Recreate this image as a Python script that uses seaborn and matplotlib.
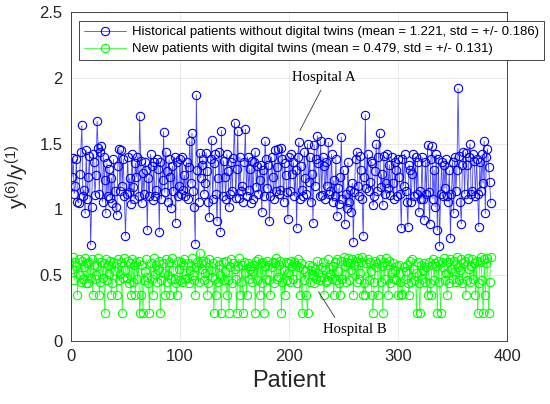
import numpy as np
import pandas as pd
import matplotlib
matplotlib.use("Agg")
import matplotlib.pyplot as plt
import seaborn as sns
from matplotlib.ticker import FuncFormatter

# ---------------- data ----------------
blue_ratio = [
    1.25, 1.39, 1.12, 1.18, 1.38, 1.06, 1.05, 1.27, 1.44, 1.64, 1.10, 1.15, 0.97, 1.45, 1.08, 1.25, 1.41, 0.73, 1.02, 1.42,
    1.36, 1.11, 1.26, 1.67, 1.47, 1.12, 1.44, 1.48, 1.06, 1.40, 1.22, 0.97, 1.35, 1.10, 1.31, 1.09, 1.24, 1.05, 1.38, 1.14,
    1.02, 0.96, 1.33, 1.46, 1.14, 1.45, 1.18, 1.38, 1.10, 0.80, 1.12, 1.40, 1.13, 1.24, 1.04, 1.42, 1.17, 1.08, 1.35, 1.25,
    1.40, 1.10, 1.71, 1.37, 1.05, 1.28, 1.12, 1.36, 1.30, 0.84, 1.24, 1.10, 1.42, 1.33, 1.07, 1.36, 1.10, 1.15, 1.38, 1.31,
    0.83, 1.36, 1.08, 1.22, 1.59, 1.13, 1.44, 1.29, 1.06, 1.38, 1.25, 1.01, 1.33, 1.14, 1.40, 0.90, 1.36, 1.10, 1.18, 1.38,
    1.12, 1.40, 1.15, 1.26, 1.10, 1.36, 1.08, 1.32, 1.52, 1.20, 1.58, 1.14, 1.02, 0.74, 1.87, 1.30, 1.06, 1.43, 1.24, 1.34,
    1.38, 1.12, 1.20, 1.43, 1.29, 1.06, 0.94, 1.38, 1.53, 1.08, 1.35, 1.42, 1.12, 0.91, 1.24, 1.44, 0.83, 1.60, 1.10, 1.37,
    1.25, 1.08, 1.42, 1.29, 1.02, 1.12, 1.36, 1.14, 1.39, 1.66, 1.09, 1.31, 1.60, 1.09, 1.40, 1.14, 1.18, 1.06, 1.36, 1.61,
    1.10, 1.40, 1.15, 1.31, 1.05, 1.37, 1.08, 1.36, 1.44, 1.17, 1.33, 1.12, 1.22, 1.34, 0.98, 1.30, 1.10, 1.52, 1.38, 1.16,
    1.34, 0.91, 1.10, 1.40, 1.25, 1.08, 1.45, 1.14, 1.32, 1.46, 1.12, 1.15, 1.47, 1.38, 1.06, 1.35, 1.26, 1.13, 0.93, 1.40,
    1.14, 1.42, 1.27, 1.36, 1.10, 1.30, 0.86, 1.40, 1.51, 1.08, 1.33, 1.15, 1.10, 1.44, 1.24, 1.12, 1.50, 1.21, 1.40, 1.06,
    1.27, 0.90, 1.49, 1.18, 1.38, 1.56, 1.35, 1.10, 1.52, 1.11, 1.40, 1.33, 1.08, 1.36, 1.18, 1.51, 1.12, 1.14, 1.42, 1.06,
    1.22, 1.10, 1.38, 0.95, 1.16, 1.04, 1.25, 1.55, 1.08, 1.30, 0.89, 1.12, 1.01, 1.36, 1.06, 1.15, 0.98, 1.20, 0.75, 1.13,
    1.38, 1.44, 1.18, 1.10, 1.41, 1.30, 1.08, 0.80, 1.25, 1.72, 1.16, 1.42, 1.14, 1.21, 1.37, 1.35, 1.03, 1.10, 1.29, 1.50,
    1.14, 1.40, 1.58, 1.17, 1.27, 1.03, 1.41, 1.12, 1.20, 1.42, 1.16, 1.34, 1.11, 1.40, 1.20, 1.08, 1.36, 1.30, 1.10, 1.38,
    1.25, 1.12, 0.86, 1.38, 1.18, 1.42, 1.14, 1.06, 0.87, 1.34, 1.30, 1.06, 1.27, 1.42, 1.10, 1.40, 1.12, 1.36, 0.98, 1.14,
    1.08, 1.40, 1.08, 0.92, 1.36, 1.12, 1.49, 1.13, 0.89, 1.38, 1.48, 1.08, 1.30, 1.02, 1.42, 0.84, 1.38, 0.72, 1.12, 1.36,
    1.10, 1.34, 1.16, 1.38, 1.10, 1.06, 1.30, 0.78, 1.12, 1.36, 0.97, 1.40, 1.14, 1.30, 1.92, 1.41, 1.06, 0.89, 1.34, 1.44,
    1.12, 1.43, 1.34, 1.08, 1.40, 1.50, 1.12, 1.14, 1.42, 1.37, 1.10, 1.38, 1.12, 0.87, 1.36, 1.14, 1.42, 1.20, 1.52, 0.97,
    1.40, 1.46, 1.32, 1.21, 1.05,
]

green_ratio = [
    0.55, 0.64, 0.46, 0.60, 0.57, 0.35, 0.62, 0.50, 0.45, 0.61, 0.47, 0.56, 0.63, 0.44, 0.59, 0.44, 0.60, 0.48, 0.62, 0.35,
    0.58, 0.47, 0.50, 0.57, 0.63, 0.35, 0.45, 0.60, 0.48, 0.59, 0.21, 0.62, 0.46, 0.58, 0.51, 0.61, 0.35, 0.44, 0.60, 0.53,
    0.59, 0.35, 0.62, 0.46, 0.51, 0.60, 0.21, 0.48, 0.63, 0.54, 0.48, 0.61, 0.44, 0.59, 0.35, 0.62, 0.45, 0.58, 0.35, 0.60,
    0.47, 0.61, 0.21, 0.35, 0.58, 0.21, 0.46, 0.53, 0.62, 0.49, 0.44, 0.21, 0.59, 0.47, 0.35, 0.63, 0.51, 0.58, 0.45, 0.54,
    0.61, 0.21, 0.46, 0.59, 0.52, 0.35, 0.62, 0.45, 0.50, 0.60, 0.35, 0.47, 0.63, 0.54, 0.47, 0.44, 0.35, 0.61, 0.55, 0.46,
    0.60, 0.45, 0.58, 0.62, 0.47, 0.48, 0.59, 0.44, 0.54, 0.57, 0.63, 0.50, 0.46, 0.35, 0.56, 0.60, 0.45, 0.67, 0.59, 0.55,
    0.61, 0.46, 0.52, 0.60, 0.35, 0.44, 0.62, 0.54, 0.49, 0.59, 0.21, 0.47, 0.35, 0.61, 0.45, 0.58, 0.50, 0.21, 0.60, 0.46,
    0.53, 0.61, 0.35, 0.46, 0.21, 0.56, 0.62, 0.44, 0.59, 0.55, 0.47, 0.21, 0.57, 0.63, 0.35, 0.45, 0.58, 0.21, 0.60, 0.52,
    0.35, 0.59, 0.47, 0.55, 0.57, 0.45, 0.53, 0.58, 0.21, 0.61, 0.46, 0.62, 0.35, 0.59, 0.44, 0.60, 0.21, 0.57, 0.47, 0.61,
    0.58, 0.46, 0.35, 0.56, 0.60, 0.44, 0.59, 0.63, 0.47, 0.49, 0.58, 0.61, 0.21, 0.45, 0.54, 0.35, 0.60, 0.46, 0.52, 0.59,
    0.45, 0.61, 0.57, 0.47, 0.60, 0.58, 0.44, 0.62, 0.56, 0.35, 0.59, 0.21, 0.55, 0.46, 0.53, 0.35, 0.21, 0.58, 0.45, 0.54,
    0.57, 0.50, 0.44, 0.55, 0.47, 0.61, 0.52, 0.46, 0.49, 0.56, 0.60, 0.35, 0.54, 0.45, 0.46, 0.62, 0.55, 0.51, 0.47, 0.57,
    0.35, 0.60, 0.46, 0.62, 0.53, 0.44, 0.35, 0.61, 0.47, 0.64, 0.57, 0.45, 0.60, 0.63, 0.46, 0.59, 0.54, 0.62, 0.35, 0.58,
    0.61, 0.45, 0.63, 0.47, 0.52, 0.60, 0.64, 0.35, 0.44, 0.35, 0.59, 0.62, 0.46, 0.60, 0.53, 0.35, 0.21, 0.45, 0.61, 0.56,
    0.59, 0.35, 0.62, 0.45, 0.57, 0.21, 0.60, 0.47, 0.63, 0.58, 0.35, 0.61, 0.44, 0.52, 0.59, 0.47, 0.54, 0.46, 0.57, 0.35,
    0.58, 0.45, 0.35, 0.36, 0.56, 0.47, 0.53, 0.58, 0.44, 0.35, 0.61, 0.45, 0.62, 0.55, 0.46, 0.52, 0.21, 0.60, 0.44, 0.21,
    0.58, 0.47, 0.54, 0.59, 0.45, 0.56, 0.35, 0.60, 0.44, 0.35, 0.58, 0.62, 0.46, 0.59, 0.57, 0.21, 0.61, 0.45, 0.21, 0.60,
    0.56, 0.63, 0.46, 0.52, 0.35, 0.60, 0.44, 0.62, 0.55, 0.47, 0.61, 0.53, 0.45, 0.64, 0.56, 0.46, 0.54, 0.62, 0.44, 0.59,
    0.61, 0.35, 0.46, 0.63, 0.55, 0.45, 0.57, 0.62, 0.47, 0.59, 0.35, 0.61, 0.21, 0.44, 0.60, 0.64, 0.46, 0.21, 0.62, 0.35,
    0.59, 0.63, 0.21, 0.45, 0.64,
]

label_hist = "Historical patients without digital twins (mean = 1.221, std = +/- 0.186)"
label_new = "New patients with digital twins (mean = 0.479, std = +/- 0.131)"
x_ticks = [0, 100, 200, 300, 400]
y_ticks = [0, 0.5, 1, 1.5, 2, 2.5]
x_label = "Patient"
y_label = r"$\mathregular{y^{(6)}/y^{(1)}}$"
annot_a = "Hospital A"
annot_b = "Hospital B"

# ---------------- styling ----------------
sns.set_theme(style="whitegrid")
plt.rcParams["font.family"] = ["Liberation Sans", "DejaVu Sans"]
plt.rcParams["mathtext.fontset"] = "custom"
plt.rcParams["mathtext.rm"] = "Liberation Sans"
plt.rcParams["mathtext.it"] = "Liberation Sans"

BLUE = "#0000ff"
BLUE_LINE = "#4646ff"
GREEN = "#00ff00"
GREEN_LINE = "#33ff33"
FRAME = "#262626"

df_hist = pd.DataFrame({"Patient": np.arange(1, len(blue_ratio) + 1), "ratio": blue_ratio})
df_new = pd.DataFrame({"Patient": np.arange(1, len(green_ratio) + 1), "ratio": green_ratio})

fig = plt.figure(figsize=(5.5, 4.04), dpi=100)
ax = fig.add_axes([0.129, 0.156, 0.793, 0.814])

for df, lcol, mcol, lab in [(df_hist, BLUE_LINE, BLUE, label_hist),
                            (df_new, GREEN_LINE, GREEN, label_new)]:
    sns.lineplot(data=df, x="Patient", y="ratio", ax=ax, color=lcol, label=lab,
                 estimator=None, sort=False, linewidth=0.6,
                 marker="o", markersize=6.0, markerfacecolor="none",
                 markeredgecolor=mcol, markeredgewidth=0.8)

ax.set_xlim(0, 400)
ax.set_ylim(0, 2.5)
ax.set_xticks(x_ticks)
ax.set_yticks(y_ticks)
ax.yaxis.set_major_formatter(FuncFormatter(lambda v, p: f"{v:g}"))
ax.grid(True, color="#e6e6e6", linewidth=0.6)
ax.set_facecolor("white")
for s in ax.spines.values():
    s.set_visible(True)
    s.set_color(FRAME)
    s.set_linewidth(0.6)
ax.tick_params(axis="both", direction="in", length=4, width=0.6, colors=FRAME,
               labelsize=12, labelcolor=FRAME, pad=6)
ax.tick_params(axis="x", top=False)
ax.tick_params(axis="y", right=False)

ax.set_xlabel(x_label, fontsize=17, color=FRAME, labelpad=4)
ax.set_ylabel(y_label, fontsize=15, color=FRAME, labelpad=6)

leg = ax.legend(loc="upper left", bbox_to_anchor=(0.018, 0.972), fontsize=9.45,
                frameon=True, fancybox=False, framealpha=1, edgecolor=FRAME,
                handlelength=3.2, borderpad=0.36, labelspacing=0.38,
                handletextpad=0.5, borderaxespad=0)
leg.get_frame().set_linewidth(0.6)
for t in leg.get_texts():
    t.set_color("black")

ax.annotate(annot_a, xy=(210, 1.60), xytext=(232, 2.0), xycoords="data",
            textcoords="data", ha="center", va="center", fontsize=10.6,
            family=["Liberation Serif", "DejaVu Serif"], color="black",
            arrowprops=dict(arrowstyle="-", color="#333333", lw=0.6,
                            relpos=(0.5, 0.0), shrinkA=2, shrinkB=0))
ax.annotate(annot_b, xy=(227, 0.375), xytext=(260, 0.086), xycoords="data",
            textcoords="data", ha="center", va="center", fontsize=10.6,
            family=["Liberation Serif", "DejaVu Serif"], color="black",
            arrowprops=dict(arrowstyle="-", color="#333333", lw=0.6,
                            relpos=(0.25, 1.0), shrinkA=2, shrinkB=0))

fig.savefig("out.png", dpi=100, facecolor="white")
